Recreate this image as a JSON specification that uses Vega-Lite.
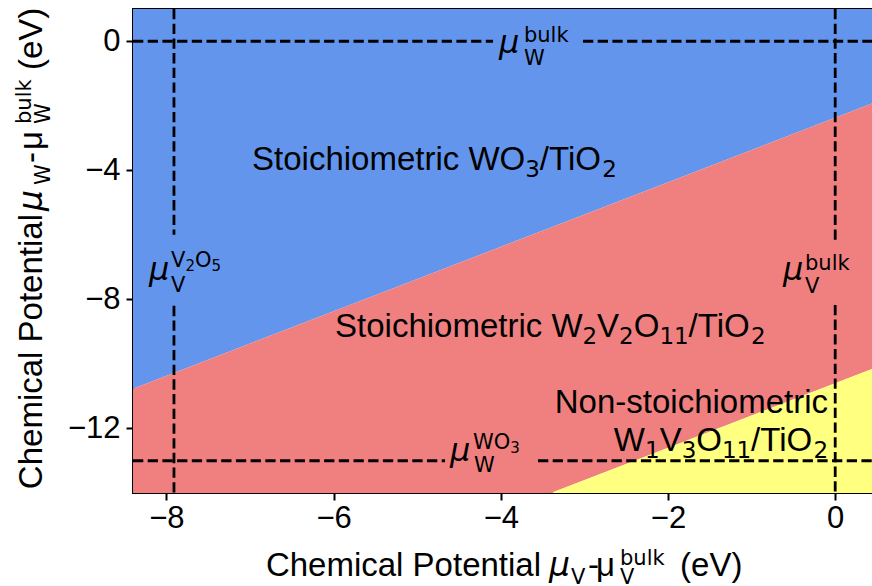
{
  "$schema": "https://vega.github.io/schema/vega-lite/v6.json",
  "width": 744,
  "height": 484,
  "autosize": {"type": "none"},
  "padding": {"left": 133, "top": 9, "right": 0, "bottom": 93},
  "background": "white",
  "config": {
    "view": {"stroke": "black", "strokeWidth": 2},
    "axis": {
      "domain": false, "grid": false, "ticks": true, "tickSize": 7, "tickWidth": 2, "tickColor": "black",
      "labelFont": "Liberation Sans", "labelFontSize": 31, "labelColor": "black",
      "labelFlush": false, "labelOverlap": false
    }
  },
  "datasets": {
    "regions": [
      {"r": "b", "x": -8.4, "y": -10.77, "hi": 1},
      {"r": "b", "x": -3.4, "y": -5.77, "hi": 1},
      {"r": "b", "x": 0.5, "y": -1.87, "hi": 1},
      {"r": "r", "x": -8.4, "y": -14, "hi": -10.77},
      {"r": "r", "x": -3.4, "y": -14, "hi": -5.77},
      {"r": "r", "x": 0.5, "y": -10.1, "hi": -1.87},
      {"r": "y", "x": -3.4, "y": -14, "hi": -14},
      {"r": "y", "x": 0.5, "y": -14, "hi": -10.1}
    ],
    "rules": [
      {"x": -8.4, "x2": -4.093, "y": 0, "y2": 0},
      {"x": -3.017, "x2": 0.5, "y": 0, "y2": 0},
      {"x": 0, "x2": 0, "y": 1, "y2": -6.22},
      {"x": 0, "x2": 0, "y": -8.17, "y2": -14},
      {"x": -7.91, "x2": -7.91, "y": 1, "y2": -6.0},
      {"x": -7.91, "x2": -7.91, "y": -8.2, "y2": -14},
      {"x": -8.4, "x2": -4.667, "y": -13, "y2": -13},
      {"x": -3.555, "x2": 0.5, "y": -13, "y2": -13}
    ],
    "labels": [
      {"g": "a_main", "x": -6.976, "y": -3.989, "t": "Stoichiometric WO"},
      {"g": "a_sub", "x": -3.708, "y": -4.206, "t": "3"},
      {"g": "a_main", "x": -3.533, "y": -3.989, "t": "/TiO"},
      {"g": "a_sub", "x": -2.788, "y": -4.206, "t": "2"},
      {"g": "a_main", "x": -5.983, "y": -9.164, "t": "Stoichiometric W"},
      {"g": "a_sub", "x": -3.023, "y": -9.381, "t": "2"},
      {"g": "a_main", "x": -2.848, "y": -9.164, "t": "V"},
      {"g": "a_sub", "x": -2.585, "y": -9.381, "t": "2"},
      {"g": "a_main", "x": -2.41, "y": -9.164, "t": "O"},
      {"g": "a_sub", "x": -2.103, "y": -9.381, "t": "11"},
      {"g": "a_main", "x": -1.754, "y": -9.164, "t": "/TiO"},
      {"g": "a_sub", "x": -1.008, "y": -9.381, "t": "2"},
      {"g": "ann_r", "x": -0.086, "y": -11.519, "t": "Non-stoichiometric"},
      {"g": "a_main", "x": -2.648, "y": -12.697, "t": "W"},
      {"g": "a_sub", "x": -2.275, "y": -12.914, "t": "1"},
      {"g": "a_main", "x": -2.1, "y": -12.697, "t": "V"},
      {"g": "a_sub", "x": -1.837, "y": -12.914, "t": "3"},
      {"g": "a_main", "x": -1.663, "y": -12.697, "t": "O"},
      {"g": "a_sub", "x": -1.355, "y": -12.914, "t": "11"},
      {"g": "a_main", "x": -1.006, "y": -12.697, "t": "/TiO"},
      {"g": "a_sub", "x": -0.261, "y": -12.914, "t": "2"},
      {"g": "mu", "x": -4.022, "y": -0.3635, "t": "μ"},
      {"g": "mu", "x": -0.624, "y": -7.398, "t": "μ"},
      {"g": "mu", "x": -8.208, "y": -7.398, "t": "μ"},
      {"g": "mu", "x": -4.608, "y": -13.007, "t": "μ"},
      {"g": "ss", "x": -3.723, "y": -0.735, "t": "W"},
      {"g": "ss", "x": -3.723, "y": -0.0226, "t": "bulk"},
      {"g": "ss", "x": -0.361, "y": -7.801, "t": "V"},
      {"g": "ss", "x": -0.361, "y": -7.088, "t": "bulk"},
      {"g": "ss", "x": -7.945, "y": -7.769, "t": "V"},
      {"g": "ss", "x": -7.945, "y": -6.995, "t": "V"},
      {"g": "sss", "x": -7.773, "y": -7.119, "t": "2"},
      {"g": "ss", "x": -7.659, "y": -6.995, "t": "O"},
      {"g": "sss", "x": -7.462, "y": -7.119, "t": "5"},
      {"g": "ss", "x": -4.321, "y": -13.348, "t": "W"},
      {"g": "ss", "x": -4.333, "y": -12.635, "t": "WO"},
      {"g": "sss", "x": -3.888, "y": -12.759, "t": "3"},
      {"g": "ss", "x": -3.16, "y": -16.819, "t": "V"},
      {"g": "ss", "x": -2.574, "y": -16.819, "t": "V"},
      {"g": "ss", "x": -2.574, "y": -16.23, "t": "bulk"},
      {"g": "xt_r", "x": -3.519, "y": -16.571, "t": "Chemical Potential"},
      {"g": "xt_l", "x": -2.957, "y": -16.571, "t": "-"},
      {"g": "xt_l", "x": -2.861, "y": -16.571, "t": "μ"},
      {"g": "xt_l", "x": -1.856, "y": -16.571, "t": "(eV)"},
      {"g": "xt_mu", "x": -3.423, "y": -16.571, "t": "μ"},
      {"g": "yt_r", "x": -9.488, "y": -5.353, "t": "Chemical Potential"},
      {"g": "yt_mu", "x": -9.488, "y": -5.26, "t": "μ"},
      {"g": "yt_l", "x": -9.488, "y": -3.772, "t": "-"},
      {"g": "yt_l", "x": -9.488, "y": -3.37, "t": "μ"},
      {"g": "yt_l", "x": -9.488, "y": -0.89, "t": "(eV)"},
      {"g": "yt_ss", "x": -9.392, "y": -4.454, "t": "W"},
      {"g": "yt_ss", "x": -9.392, "y": -2.564, "t": "W"},
      {"g": "yt_ss", "x": -9.62, "y": -2.564, "t": "bulk"}
    ]
  },
  "encoding": {
    "x": {"field": "x", "type": "quantitative", "title": null,
      "scale": {"domain": [-8.4, 0.5], "nice": false, "zero": false},
      "axis": {"values": [-8, -6, -4, -2, 0], "labelPadding": 3}},
    "y": {"field": "y", "type": "quantitative", "title": null,
      "scale": {"domain": [-14, 1], "nice": false, "zero": false},
      "axis": {"values": [-12, -8, -4, 0], "labelPadding": 6}}
  },
  "layer": [
    {
      "data": {"name": "regions"},
      "mark": {"type": "area", "opacity": 1},
      "encoding": {
        "y": {"field": "y", "type": "quantitative", "stack": null},
        "y2": {"field": "hi"},
        "color": {"field": "r", "type": "nominal", "legend": null,
          "scale": {"domain": ["b", "r", "y"], "range": ["#6495ED", "#F08080", "#FFFF80"]}}
      }
    },
    {
      "data": {"name": "rules"},
      "mark": {"type": "rule", "color": "black", "strokeWidth": 2.8, "strokeDash": [10.3, 4.4], "strokeCap": "butt"},
      "encoding": {"x2": {"field": "x2"}, "y2": {"field": "y2"}}
    },
    {
      "data": {"name": "labels"},
      "transform": [{"filter": "datum.g == 'a_main'"}],
      "mark": {"type": "text", "font": "Liberation Sans", "fontSize": 33, "align": "left", "baseline": "alphabetic", "color": "black"},
      "encoding": {"text": {"field": "t"}}
    },
    {
      "data": {"name": "labels"},
      "transform": [{"filter": "datum.g == 'a_sub'"}],
      "mark": {"type": "text", "font": "DejaVu Sans", "fontSize": 23, "align": "left", "baseline": "alphabetic", "color": "black"},
      "encoding": {"text": {"field": "t"}}
    },
    {
      "data": {"name": "labels"},
      "transform": [{"filter": "datum.g == 'ann_r'"}],
      "mark": {"type": "text", "font": "Liberation Sans", "fontSize": 33, "align": "right", "baseline": "alphabetic", "color": "black"},
      "encoding": {"text": {"field": "t"}}
    },
    {
      "data": {"name": "labels"},
      "transform": [{"filter": "datum.g == 'mu'"}],
      "mark": {"type": "text", "font": "DejaVu Sans", "fontStyle": "italic", "fontSize": 32, "align": "left", "baseline": "alphabetic", "color": "black"},
      "encoding": {"text": {"field": "t"}}
    },
    {
      "data": {"name": "labels"},
      "transform": [{"filter": "datum.g == 'ss'"}],
      "mark": {"type": "text", "font": "DejaVu Sans", "fontSize": 21, "align": "left", "baseline": "alphabetic", "color": "black"},
      "encoding": {"text": {"field": "t"}}
    },
    {
      "data": {"name": "labels"},
      "transform": [{"filter": "datum.g == 'sss'"}],
      "mark": {"type": "text", "font": "DejaVu Sans", "fontSize": 15, "align": "left", "baseline": "alphabetic", "color": "black"},
      "encoding": {"text": {"field": "t"}}
    },
    {
      "data": {"name": "labels"},
      "transform": [{"filter": "datum.g == 'xt_r'"}],
      "mark": {"type": "text", "font": "Liberation Sans", "fontSize": 33, "align": "right", "baseline": "alphabetic", "color": "black"},
      "encoding": {"text": {"field": "t"}}
    },
    {
      "data": {"name": "labels"},
      "transform": [{"filter": "datum.g == 'xt_l'"}],
      "mark": {"type": "text", "font": "Liberation Sans", "fontSize": 33, "align": "left", "baseline": "alphabetic", "color": "black"},
      "encoding": {"text": {"field": "t"}}
    },
    {
      "data": {"name": "labels"},
      "transform": [{"filter": "datum.g == 'xt_mu'"}],
      "mark": {"type": "text", "font": "DejaVu Sans", "fontStyle": "italic", "fontSize": 33, "align": "left", "baseline": "alphabetic", "color": "black"},
      "encoding": {"text": {"field": "t"}}
    },
    {
      "data": {"name": "labels"},
      "transform": [{"filter": "datum.g == 'yt_r'"}],
      "mark": {"type": "text", "font": "Liberation Sans", "fontSize": 33, "align": "right", "baseline": "alphabetic", "angle": 270, "color": "black"},
      "encoding": {"text": {"field": "t"}}
    },
    {
      "data": {"name": "labels"},
      "transform": [{"filter": "datum.g == 'yt_l'"}],
      "mark": {"type": "text", "font": "Liberation Sans", "fontSize": 33, "align": "left", "baseline": "alphabetic", "angle": 270, "color": "black"},
      "encoding": {"text": {"field": "t"}}
    },
    {
      "data": {"name": "labels"},
      "transform": [{"filter": "datum.g == 'yt_mu'"}],
      "mark": {"type": "text", "font": "DejaVu Sans", "fontStyle": "italic", "fontSize": 33, "align": "left", "baseline": "alphabetic", "angle": 270, "color": "black"},
      "encoding": {"text": {"field": "t"}}
    },
    {
      "data": {"name": "labels"},
      "transform": [{"filter": "datum.g == 'yt_ss'"}],
      "mark": {"type": "text", "font": "DejaVu Sans", "fontSize": 21, "align": "left", "baseline": "alphabetic", "angle": 270, "color": "black"},
      "encoding": {"text": {"field": "t"}}
    }
  ]
}
